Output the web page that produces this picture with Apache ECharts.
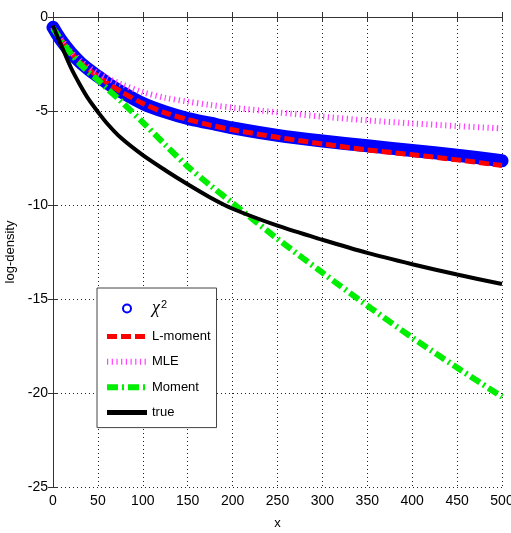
<!DOCTYPE html>
<html><head><meta charset="utf-8">
<script src="https://cdn.jsdelivr.net/npm/echarts@6/dist/echarts.min.js"></script>
<style>html,body{margin:0;padding:0;background:#fff}#c{width:511px;height:533px}</style>
</head><body><div id="c"></div>
<script>
// x positions where curves were read
const xValues = [0, 5, 10, 20, 30, 40, 50, 60, 75, 100, 125, 150, 175, 200, 250, 300, 350, 400, 450, 500];
const chi2Values   = [-0.55, -0.95, -1.3, -1.9, -2.4, -2.8, -3.15, -3.5, -3.95, -4.6, -5.05, -5.4, -5.65, -5.9, -6.3, -6.6, -6.85, -7.1, -7.35, -7.65];
const lMomentValues= [-0.55, -0.95, -1.3, -1.9, -2.4, -2.8, -3.15, -3.5, -3.95, -4.6, -5.1, -5.45, -5.75, -6.0, -6.4, -6.75, -7.07, -7.32, -7.6, -7.9];
const mleValues    = [-0.55, -0.95, -1.25, -1.85, -2.3, -2.7, -3.0, -3.25, -3.55, -4.0, -4.3, -4.5, -4.68, -4.82, -5.07, -5.3, -5.5, -5.66, -5.8, -5.93];
const momentValues = [-0.6, -0.95, -1.3, -1.95, -2.5, -2.95, -3.35, -3.8, -4.45, -5.6, -6.8, -7.95, -8.95, -9.9, -11.8, -13.6, -15.35, -17.05, -18.65, -20.2];
const trueValues   = [-0.45, -1.05, -1.6, -2.7, -3.6, -4.4, -5.05, -5.65, -6.4, -7.35, -8.15, -8.9, -9.6, -10.2, -11.1, -11.85, -12.55, -13.15, -13.7, -14.2];
const xTicks = {min: 0, max: 500, interval: 50};
const yTicks = {min: -25, max: 0, interval: 5};

const pairs = arr => xValues.map((x, i) => [x, arr[i]]);
const font = "'Liberation Sans', Arial, sans-serif";

const chart = echarts.init(document.getElementById('c'), null, {renderer: 'canvas'});
const axisLine = {show: true, lineStyle: {color: '#333', width: 1}};
const tick = {show: true, inside: true, length: 5, lineStyle: {color: '#333'}};
const split = {show: true, lineStyle: {color: '#222', type: [1, 3], width: 1}};
const hideSym = {opacity: 0, color: 'rgba(0,0,0,0)', borderWidth: 0};

chart.setOption({
  animation: false,
  backgroundColor: '#fff',
  grid: {left: 53, right: 9, top: 17, bottom: 46, containLabel: false, outerBoundsMode: 'none'},
  xAxis: [{
    type: 'value', min: xTicks.min, max: xTicks.max, interval: xTicks.interval,
    position: 'bottom',
    name: 'x', nameLocation: 'middle', nameGap: 30,
    nameTextStyle: {fontFamily: font, fontSize: 13, color: '#000'},
    axisLine: axisLine, axisTick: tick, splitLine: split,
    axisLabel: {fontFamily: font, fontSize: 14, color: '#000', margin: 7, showMaxLabel: true, showMinLabel: true}
  }, {
    type: 'value', min: xTicks.min, max: xTicks.max, interval: xTicks.interval,
    position: 'top', axisLine: axisLine, axisTick: tick, splitLine: {show: false}, axisLabel: {show: false}
  }],
  yAxis: [{
    type: 'value', min: yTicks.min, max: yTicks.max, interval: yTicks.interval,
    position: 'left',
    name: 'log-density', nameLocation: 'middle', nameGap: 32, nameRotate: 90,
    nameTextStyle: {fontFamily: font, fontSize: 13, color: '#000'},
    axisLine: axisLine, axisTick: tick, splitLine: split,
    axisLabel: {fontFamily: font, fontSize: 14, color: '#000', margin: 5}
  }, {
    type: 'value', min: yTicks.min, max: yTicks.max, interval: yTicks.interval,
    position: 'right', axisLine: axisLine, axisTick: tick, splitLine: {show: false}, axisLabel: {show: false}
  }],
  legend: {
    orient: 'vertical', left: 97, top: 288,
    padding: [11, 6, 8, 7],
    backgroundColor: '#fff', borderColor: '#444', borderWidth: 1,
    itemWidth: 40, itemHeight: 8, itemGap: 11.4,
    selectedMode: false,
    textStyle: {fontFamily: font, fontSize: 13, color: '#000', lineHeight: 14,
      rich: {
        chi: {fontFamily: "'Liberation Serif', serif", fontStyle: 'italic', fontSize: 18, lineHeight: 14, color: '#000'},
        sup: {fontFamily: font, fontSize: 11, lineHeight: 8, color: '#000', padding: [0, 0, 8, 1]}
      }},
    formatter: n => n === 'chi2' ? '{chi|χ}{sup|2}' : n,
    data: [
      {name: 'chi2', icon: 'emptyCircle', itemStyle: {borderWidth: 1.5}},
      {name: 'L-moment', lineStyle: {width: 5}, itemStyle: hideSym},
      {name: 'MLE', lineStyle: {width: 6}, itemStyle: hideSym},
      {name: 'Moment', lineStyle: {width: 6}, itemStyle: hideSym},
      {name: 'true', lineStyle: {width: 5}, itemStyle: hideSym}
    ]
  },
  series: [
    {name: 'chi2', type: 'line', data: pairs(chi2Values), symbol: 'none', smooth: 0.3, clip: false,
     color: '#0000ff', lineStyle: {color: '#0000ff', width: 13, cap: 'round', join: 'round'}},
    {name: 'L-moment', type: 'line', data: pairs(lMomentValues), symbol: 'none', smooth: 0.3,
     color: '#ff0000', lineStyle: {color: '#ff0000', width: 5, type: [10, 4]}},
    {name: 'MLE', type: 'line', data: pairs(mleValues), symbol: 'none', smooth: 0.3,
     color: '#ff40ff', lineStyle: {color: '#ff40ff', width: 6, type: [1.2, 3.5]}},
    {name: 'Moment', type: 'line', data: pairs(momentValues), symbol: 'none', smooth: 0.3,
     color: '#00ff00', lineStyle: {color: '#00ee00', width: 6, type: [11, 4, 2, 4]}},
    {name: 'true', type: 'line', data: pairs(trueValues), symbol: 'none', smooth: 0.3,
     color: '#000000', lineStyle: {color: '#000', width: 4}}
  ]
});
</script></body></html>
